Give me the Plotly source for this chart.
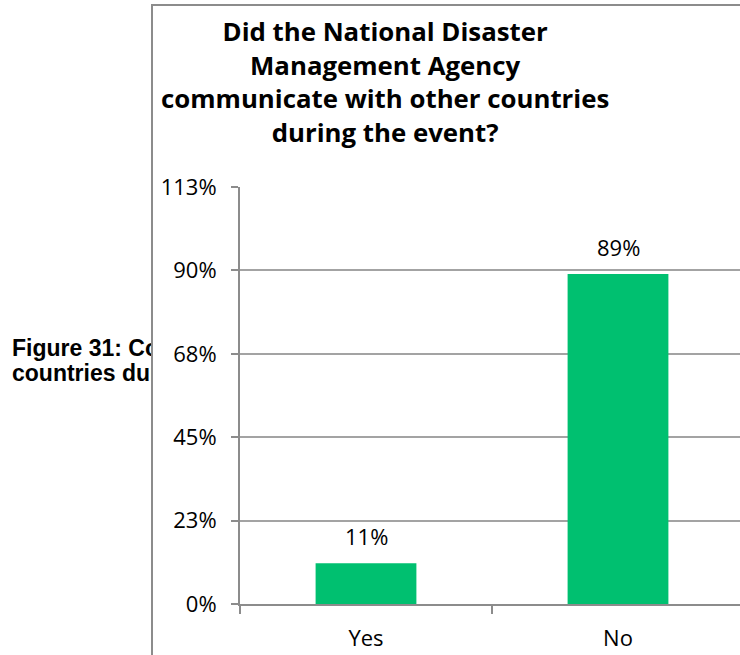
import plotly.graph_objects as go

# Survey responses (percent of respondents)
categories = ["Yes", "No"]
values = [11, 89]
value_labels = ["11%", "89%"]

# Y axis ticks: steps of 22.5%, labelled rounded
y_tickvals = [0, 22.5, 45, 67.5, 90, 112.5]
y_ticktext = ["0%", "23%", "45%", "68%", "90%", "113%"]

title_lines = [
    "Did the National Disaster",
    "Management Agency",
    "communicate with other countries",
    "during the event?",
]

caption_lines = [
    "Figure 31: Communication with other",
    "countries during the event",
]

W, H = 740, 655
BAR_COLOR = "#00c070"
LINE_GRAY = "#8c8c8c"
GRID_GRAY = "#a3a3a3"
LABEL_FONT = dict(family="Open Sans", size=22, color="#000000")

fig = go.Figure()

# Document caption sitting behind the chart box (clipped at the box edge)
fig.add_trace(go.Scatter(
    x=[12, 12], y=[350, 375],
    text=caption_lines,
    mode="text",
    textposition="middle right",
    textfont=dict(family="Liberation Sans", size=23, color="#000000"),
    texttemplate="<b>%{text}</b>",
    cliponaxis=True,
    hoverinfo="skip",
    showlegend=False,
    xaxis="x2", yaxis="y2",
))

fig.add_trace(go.Bar(
    x=categories, y=values,
    marker=dict(color=BAR_COLOR, line=dict(width=0)),
    width=0.4,
    showlegend=False,
))

for c, v, t in zip(categories, values, value_labels):
    fig.add_annotation(
        x=c, y=v, text=t, showarrow=False,
        yanchor="bottom", yshift=10,
        font=LABEL_FONT,
    )

x_left = 240 / W
plot_px = W - 240
fig.update_layout(
    template="none",
    width=W, height=H,
    margin=dict(l=0, r=0, t=0, b=0, pad=0),
    paper_bgcolor="white", plot_bgcolor="white",
    xaxis=dict(
        domain=[x_left, 1.0],
        range=[-0.5, -0.5 + plot_px / 252],
        type="category",
        automargin=False,
        tickson="boundaries",
        ticks="outside", ticklen=8, tickwidth=2, tickcolor=LINE_GRAY,
        showline=True, linecolor=LINE_GRAY, linewidth=2,
        showgrid=False, zeroline=False,
        tickfont=LABEL_FONT,
        ticklabelstandoff=14,
    ),
    yaxis=dict(
        domain=[(H - 604) / H, (H - 187) / H],
        range=[0, 112.5],
        automargin=False,
        tickvals=y_tickvals, ticktext=y_ticktext,
        ticks="outside", ticklen=7, tickwidth=2, tickcolor=LINE_GRAY,
        showline=True, linecolor=LINE_GRAY, linewidth=2,
        showgrid=True, gridcolor=GRID_GRAY, gridwidth=2,
        zeroline=False,
        tickfont=LABEL_FONT,
        ticklabelstandoff=10,
    ),
    xaxis2=dict(
        domain=[0, 151 / W], range=[0, 151], visible=False,
        fixedrange=True, automargin=False, anchor="y2",
    ),
    yaxis2=dict(
        domain=[0, 1], range=[H, 0], visible=False,
        fixedrange=True, automargin=False, anchor="x2",
    ),
)

# Chart frame
fig.add_shape(
    type="rect", xref="paper", yref="paper",
    x0=152 / W, x1=1.2, y0=-0.2, y1=(H - 5) / H,
    line=dict(color=LINE_GRAY, width=2), fillcolor="rgba(0,0,0,0)",
    layer="above",
)

# Chart title
fig.add_annotation(
    xref="paper", yref="paper", x=385 / W, y=(H - 11) / H,
    xanchor="center", yanchor="top",
    text="<br>".join(title_lines), showarrow=False, align="center",
    font=dict(family="Open Sans", size=25.8, color="#000000", weight="bold"),
)

fig.write_html("out.html")
